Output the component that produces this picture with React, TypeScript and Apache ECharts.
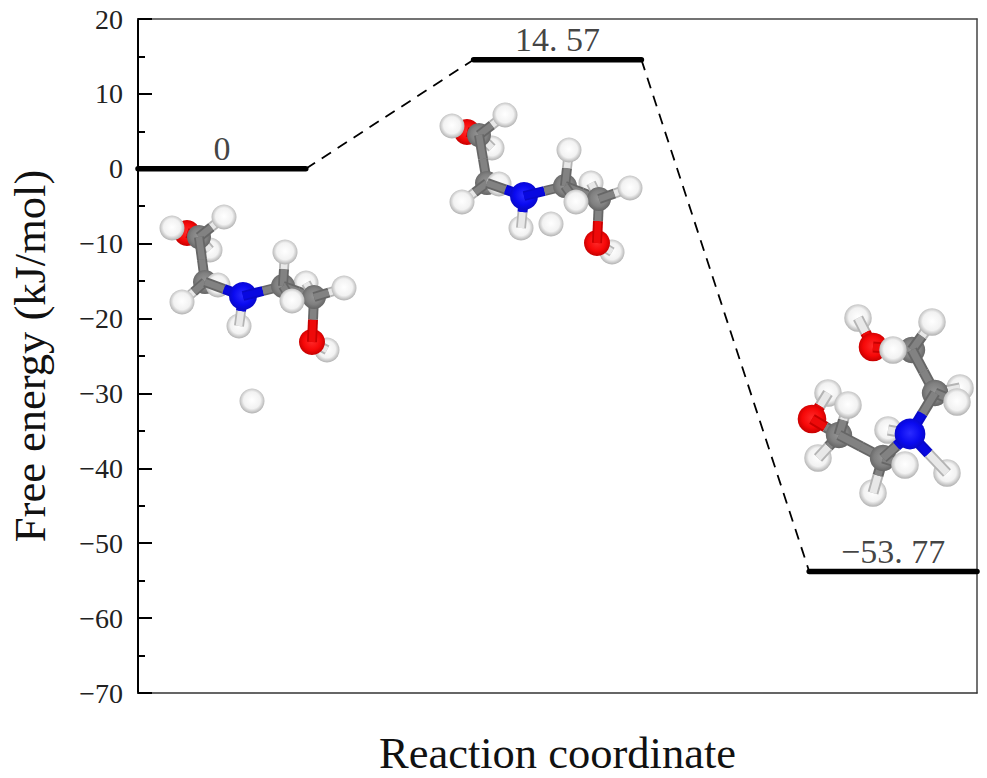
import React, { useEffect, useRef } from "react";
import * as echarts from "echarts";

const FONT = '"Liberation Serif", serif';

// Energy profile
const levelNames = ["Reactant", "Transition state", "Product"];
const levelStart = [0, 2, 4];
const levelEnd = [1, 3, 5];
const levelValues = [0, 14.57, -53.77];
const levelLabels = ["0", "14. 57", "\u221253. 77"];

// Ball-and-stick illustrations: [element, picture x, picture y, ...atoms bonded to], back to front
type Atom = [string, number, number, ...number[]];
const moleculeA: Atom[] = [
  ["H", 210, 250], ["O", 187, 233], ["H", 306, 283], ["H", 327, 350], ["O", 312, 342, 3],
  ["C", 199, 237, 0, 1], ["H", 172, 228], ["H", 224, 217, 5], ["C", 205, 282, 5], ["H", 182, 302, 8],
  ["H", 218, 285], ["H", 239, 326], ["N", 243, 296, 8, 11], ["C", 283, 286, 12], ["H", 285, 252, 13],
  ["C", 314, 297, 13, 2, 4], ["H", 344, 288, 15], ["H", 292, 301, 13], ["H", 252, 401],
];
const moleculeB: Atom[] = [
  ["H", 492, 148], ["O", 467, 132], ["H", 591, 183], ["H", 612, 252], ["O", 597, 243, 3],
  ["C", 479, 135, 0, 1], ["H", 452, 126], ["H", 505, 115, 5], ["C", 487, 183, 5], ["H", 462, 202, 8],
  ["H", 499, 184], ["H", 521, 228], ["N", 524, 196, 8, 11], ["C", 565, 186, 12], ["H", 569, 150, 13],
  ["C", 599, 199, 13, 2, 4], ["H", 630, 188, 15], ["H", 576, 202, 13], ["H", 551, 224],
];
const moleculeC: Atom[] = [
  ["H", 960, 388], ["H", 828, 393], ["O", 812, 419, 1], ["H", 888, 430], ["H", 858, 318],
  ["O", 873, 347, 4], ["C", 912, 350, 5], ["H", 932, 322, 6], ["H", 893, 350], ["C", 935, 393, 6, 0],
  ["H", 957, 402, 9], ["H", 947, 473], ["H", 818, 458], ["H", 873, 493], ["C", 839, 435, 2, 12],
  ["H", 848, 405, 14], ["C", 883, 458, 14, 13], ["H", 905, 465, 16], ["N", 910, 434, 16, 9, 11, 3],
];

const shades: Record<string, [string, string, string, string]> = {
  H: ["#ffffff", "#f2f2f2", "#b4b4b4", "#e8e8e8"],
  C: ["#969696", "#808080", "#666666", "#828282"],
  N: ["#2b2bff", "#0a0af0", "#0808c8", "#0808e0"],
  O: ["#ff2a2a", "#f60808", "#c80000", "#ee0a0a"],
};
const radii: Record<string, number> = { H: 12.5, C: 12, N: 14, O: 13 };

type Prim =
  | { kind: "atom"; el: string; x: number; y: number; r: number }
  | { kind: "bond"; el: string; x: number; y: number; x2: number; y2: number; w: number };

function buildPrims(mol: Atom[], scale: number): Prim[] {
  const out: Prim[] = [];
  mol.forEach((a) => {
    const [el, x, y, ...links] = a;
    links.forEach((i) => {
      const b = mol[i];
      const mx = (x + b[1]) / 2;
      const my = (y + b[2]) / 2;
      const w = 10 * scale;
      out.push({ kind: "bond", el: b[0], x: b[1], y: b[2], x2: mx, y2: my, w });
      out.push({ kind: "bond", el, x: mx, y: my, x2: x, y2: y, w });
    });
    out.push({ kind: "atom", el, x, y, r: radii[el] * scale });
  });
  return out;
}

const prims: Prim[] = [
  ...buildPrims(moleculeA, 1),
  ...buildPrims(moleculeB, 1),
  ...buildPrims(moleculeC, 1.1),
];

function renderPrim(params: any, api: any) {
  const p = prims[params.dataIndex];
  const a = api.coord([p.x, p.y]);
  const s = shades[p.el];
  if (p.kind === "atom") {
    return {
      type: "circle",
      shape: { cx: a[0], cy: a[1], r: p.r },
      style: {
        fill: new echarts.graphic.RadialGradient(0.5, 0.47, 0.52, [
          { offset: 0, color: s[0] },
          { offset: 0.65, color: s[1] },
          { offset: 1, color: s[2] },
        ]),
      },
    };
  }
  const b = api.coord([p.x2, p.y2]);
  const shape = { x1: a[0], y1: a[1], x2: b[0], y2: b[1] };
  return {
    type: "group",
    children: [
      { type: "line", shape, style: { stroke: s[2], lineWidth: p.w } },
      { type: "line", shape, style: { stroke: s[3], lineWidth: p.w * 0.65 } },
    ],
  };
}

const levelSeries = levelNames.map((name, i) => ({
  name,
  type: "line",
  showSymbol: false,
  data: [
    [levelStart[i], levelValues[i]],
    [levelEnd[i], levelValues[i]],
  ],
  lineStyle: { color: "#000", width: 5.5, cap: "round" },
  z: 4,
}));

const connectorSeries = [0, 1].map((i) => ({
  name: `Connector ${i + 1}`,
  type: "line",
  showSymbol: false,
  data: [
    [levelEnd[i], levelValues[i]],
    [levelStart[i + 1], levelValues[i + 1]],
  ],
  lineStyle: { color: "#000", width: 1.8, type: [11, 8] },
  z: 3,
}));

export default function App() {
  const ref = useRef<HTMLDivElement>(null);
  useEffect(() => {
    document.body.style.margin = "0";
    const chart = echarts.init(ref.current!, undefined, { renderer: "svg" });
    chart.setOption({
      animation: false,
      backgroundColor: "#fff",
      textStyle: { fontFamily: FONT },
      grid: { left: 138, top: 19, width: 839, height: 674, show: false, outerBoundsMode: "none", containLabel: false },
      xAxis: [
        {
          type: "value",
          min: 0,
          max: 5,
          name: "Reaction coordinate",
          nameLocation: "middle",
          nameGap: 37,
          nameTextStyle: { fontFamily: FONT, fontSize: 44.5, color: "#111" },
          axisLine: { onZero: false, lineStyle: { color: "#333", width: 1.5 } },
          axisTick: { show: false },
          axisLabel: { show: false },
          splitLine: { show: false },
        },
        {
          type: "value",
          show: false,
          min: 138,
          max: 977,
          position: "top",
          splitLine: { show: false },
        },
        {
          type: "value",
          position: "top",
          min: 0,
          max: 5,
          axisLine: { show: true, onZero: false, lineStyle: { color: "#444", width: 1.5 } },
          axisTick: { show: false },
          axisLabel: { show: false },
          splitLine: { show: false },
        },
      ],
      yAxis: [
        {
          type: "value",
          min: -70,
          max: 20,
          interval: 10,
          name: "Free energy (kJ/mol)",
          nameLocation: "middle",
          nameGap: 86,
          nameTextStyle: { fontFamily: FONT, fontSize: 44.5, color: "#111" },
          axisLine: { onZero: false, lineStyle: { color: "#000", width: 2 } },
          axisTick: { inside: true, length: 14, lineStyle: { color: "#000", width: 2 } },
          minorTick: { show: true, splitNumber: 2, length: 7, lineStyle: { color: "#000", width: 2 } },
          axisLabel: {
            fontFamily: FONT,
            fontSize: 28,
            color: "#222",
            margin: 15,
            formatter: (v: number) => String(v).replace("-", "\u2212"),
          },
          splitLine: { show: false },
        },
        {
          type: "value",
          show: false,
          inverse: true,
          min: 19,
          max: 693,
          splitLine: { show: false },
        },
        {
          type: "value",
          position: "right",
          min: -70,
          max: 20,
          axisLine: { show: true, onZero: false, lineStyle: { color: "#444", width: 1.5 } },
          axisTick: { show: false },
          axisLabel: { show: false },
          splitLine: { show: false },
        },
      ],
      series: [
        ...connectorSeries,
        ...levelSeries,
        {
          name: "Level labels",
          type: "scatter",
          symbolSize: 0,
          data: levelValues.map((v, i) => [(levelStart[i] + levelEnd[i]) / 2, v]),
          label: {
            show: true,
            position: "top",
            distance: 3,
            fontFamily: FONT,
            fontSize: 34,
            color: "#111",
            formatter: (p: any) => levelLabels[p.dataIndex],
          },
          z: 5,
        },
        {
          name: "Molecules",
          type: "custom",
          xAxisIndex: 1,
          yAxisIndex: 1,
          silent: true,
          clip: false,
          encode: { x: 0, y: 1 },
          data: prims.map((p) => [p.x, p.y]),
          renderItem: renderPrim,
          z: 6,
        },
      ],
    });
    return () => chart.dispose();
  }, []);
  return <div ref={ref} style={{ width: 987, height: 778 }} />;
}
